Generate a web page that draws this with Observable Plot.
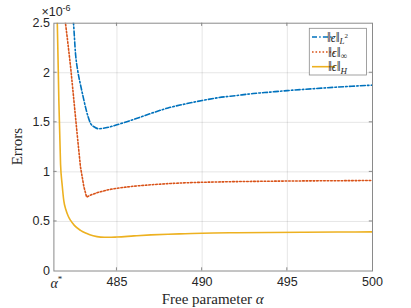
<!DOCTYPE html>
<html><head><meta charset="utf-8">
<script src="https://cdn.jsdelivr.net/npm/d3@7"></script>
<script src="https://cdn.jsdelivr.net/npm/@observablehq/plot@0.6"></script>
<style>
html,body{margin:0;padding:0;background:#fff;}
#chart{position:relative;width:411px;height:308px;}
</style></head><body><div id="chart"></div>
<script>
// x axis: free parameter alpha; alpha* is the left limit
const alphaStar = 481.3;
const xTicks = [alphaStar, 485, 490, 495, 500];
const yTicks = [0, 0.5, 1, 1.5, 2, 2.5]; // units of 1e-6

// ||eps||_L2  (x1e-6)
const alphaL2 = [482.3, 482.45, 482.57, 482.7, 482.86, 483.0, 483.16, 483.3, 483.45, 483.7, 483.94, 484.2, 484.5, 485, 486, 487, 488, 489, 490, 491, 492, 493, 494, 495, 496, 497, 498, 499, 500];
const errL2   = [2.75, 2.5, 2.19, 2.02, 1.88, 1.77, 1.65, 1.56, 1.49, 1.45, 1.435, 1.44, 1.45, 1.475, 1.53, 1.59, 1.645, 1.685, 1.72, 1.75, 1.77, 1.79, 1.805, 1.82, 1.833, 1.845, 1.856, 1.866, 1.875];

// ||eps||_inf (x1e-6)
const alphaInf = [481.9, 481.98, 482.1, 482.28, 482.4, 482.57, 482.7, 482.86, 483.06, 483.22, 483.5, 483.94, 484.5, 485, 486, 487, 488, 489, 490, 492, 494, 496, 498, 500];
const errInf   = [2.7, 2.5, 2.33, 2.06, 1.85, 1.55, 1.32, 1.05, 0.85, 0.745, 0.77, 0.795, 0.82, 0.835, 0.856, 0.87, 0.882, 0.89, 0.895, 0.902, 0.906, 0.909, 0.911, 0.913];

// ||eps||_H (x1e-6)
const alphaH = [481.44, 481.5, 481.59, 481.69, 481.79, 481.88, 482.0, 482.15, 482.28, 482.5, 482.86, 483.2, 483.6, 484.04, 484.5, 485, 486, 487, 488, 489, 490, 492, 494, 496, 498, 500];
const errH   = [2.7, 2.5, 1.72, 1.08, 0.86, 0.71, 0.62, 0.55, 0.51, 0.46, 0.41, 0.38, 0.355, 0.342, 0.34, 0.343, 0.354, 0.364, 0.371, 0.376, 0.381, 0.386, 0.389, 0.391, 0.393, 0.395];

const colL2 = "#0072BD", colInf = "#D95319", colH = "#EDB120";

const toRows = (xs, ys) => xs.map((x, i) => ({x, y: ys[i]}));
const rowsL2 = toRows(alphaL2, errL2);
const rowsInf = toRows(alphaInf, errInf);
const rowsH = toRows(alphaH, errH);

const W = 411, H = 308, mL = 53.4, mR = 39, mT = 22.7, mB = 37.5;

const plot = Plot.plot({
  width: W, height: H,
  marginLeft: mL, marginRight: mR, marginTop: mT, marginBottom: mB,
  style: {fontFamily: "'Liberation Sans', Arial, sans-serif", fontSize: "12.5px", color: "#262626", background: "#fff", overflow: "visible"},
  x: {domain: [alphaStar, 500]},
  y: {domain: [0, 2.5]},
  marks: [
    Plot.gridX(xTicks.slice(1, -1), {stroke: "#000", strokeOpacity: 0.1, strokeWidth: 1}),
    Plot.gridY(yTicks.slice(1, -1), {stroke: "#000", strokeOpacity: 0.1, strokeWidth: 1}),
    Plot.axisX(xTicks, {tickSize: 0, tickPadding: 6, label: null, fill: "#262626", fontSize: 12.5,
      tickFormat: d => d === alphaStar ? "" : String(d)}),
    Plot.axisY(yTicks, {tickSize: 0, tickPadding: 4, label: null, fill: "#262626", fontSize: 12.5,
      tickFormat: d => String(d)}),
    Plot.line(rowsH, {x: "x", y: "y", stroke: colH, strokeWidth: 1.6, curve: "monotone-x", clip: true}),
    Plot.line(rowsInf, {x: "x", y: "y", stroke: colInf, strokeWidth: 1.6, strokeDasharray: "1.6,1.9", curve: "linear", clip: true}),
    Plot.line(rowsL2, {x: "x", y: "y", stroke: colL2, strokeWidth: 1.6, strokeDasharray: "5,2.2,1.5,2.2", curve: "monotone-x", clip: true}),
    Plot.frame({stroke: "#8a8a8a", strokeWidth: 1})
  ]
});
document.getElementById("chart").appendChild(plot);

const svg = d3.select(plot);
const xs = plot.scale("x"), ys = plot.scale("y");
const pLeft = mL, pRight = W - mR, pTop = mT, pBottom = H - mB;
const tk = 3.2;
const g = svg.append("g").attr("stroke", "#8a8a8a").attr("stroke-width", 1);
xTicks.slice(1, -1).forEach(v => {
  const px = xs.apply(v);
  g.append("line").attr("x1", px).attr("x2", px).attr("y1", pBottom).attr("y2", pBottom - tk);
  g.append("line").attr("x1", px).attr("x2", px).attr("y1", pTop).attr("y2", pTop + tk);
});
yTicks.slice(1, -1).forEach(v => {
  const py = ys.apply(v);
  g.append("line").attr("x1", pLeft).attr("x2", pLeft + tk).attr("y1", py).attr("y2", py);
  g.append("line").attr("x1", pRight).attr("x2", pRight - tk).attr("y1", py).attr("y2", py);
});

const serif = "'Liberation Serif', 'DejaVu Serif', serif";
// alpha* tick label
const aStar = svg.append("text").attr("x", xs.apply(alphaStar) + 3).attr("y", 288)
  .attr("text-anchor", "middle").attr("font-family", serif).attr("font-size", 14).attr("fill", "#262626");
aStar.append("tspan").attr("font-style", "italic").text("α");
aStar.append("tspan").attr("font-size", 9).attr("dy", -6).text("*");

// x label
const xl = svg.append("text").attr("x", (pLeft + pRight) / 2).attr("y", 304)
  .attr("text-anchor", "middle").attr("font-family", serif).attr("font-size", 15).attr("fill", "#262626");
xl.append("tspan").text("Free parameter ");
xl.append("tspan").attr("font-style", "italic").text("α");

// y label
svg.append("text").attr("transform", `translate(22,${(pTop + pBottom) / 2}) rotate(-90)`)
  .attr("text-anchor", "middle").attr("font-family", serif).attr("font-size", 15).attr("fill", "#262626")
  .text("Errors");

// exponent
const ex = svg.append("text").attr("x", 56).attr("y", 16).attr("font-family", "'Liberation Sans', Arial, sans-serif")
  .attr("font-size", 12.5).attr("fill", "#262626");
ex.append("tspan").text("×10");
ex.append("tspan").attr("font-size", 9).attr("dy", -5).text("-6");

// legend
const lg = svg.append("g");
lg.append("rect").attr("x", 309.3).attr("y", 28.3).attr("width", 57.2).attr("height", 46.7)
  .attr("fill", "#fff").attr("stroke", "#8a8a8a").attr("stroke-width", 0.8);
const entries = [
  {c: colL2, dash: "5,2.2,1.5,2.2", sub: "L", sup: "2", y: 37},
  {c: colInf, dash: "1.6,1.9", sub: "∞", sup: null, y: 52},
  {c: colH, dash: null, sub: "H", sup: null, y: 66.7}
];
entries.forEach(e => {
  const ln = lg.append("line").attr("x1", 312).attr("x2", 335).attr("y1", e.y).attr("y2", e.y)
    .attr("stroke", e.c).attr("stroke-width", 1.6);
  if (e.dash) ln.attr("stroke-dasharray", e.dash);
  const t = lg.append("text").attr("x", 337.5).attr("y", e.y + 4.5).attr("font-family", serif)
    .attr("font-size", 12).attr("fill", "#262626");
  t.append("tspan").attr("font-size", 14).text("‖");
  t.append("tspan").attr("font-style", "italic").text("ϵ");
  t.append("tspan").attr("font-size", 14).text("‖");
  const s = t.append("tspan").attr("font-size", 9).attr("dy", 2.5).text(e.sub);
  if (e.sub !== "∞") s.attr("font-style", "italic");
  if (e.sup) t.append("tspan").attr("font-size", 7).attr("dy", -6).text(e.sup);
});
</script>
</body></html>
